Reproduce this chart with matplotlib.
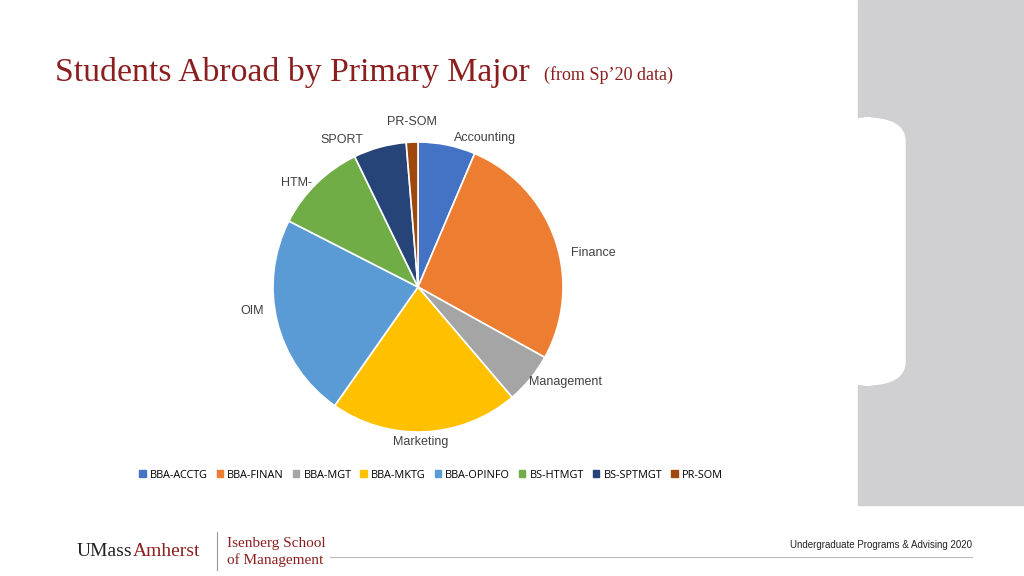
import matplotlib
matplotlib.use("Agg")
import matplotlib.pyplot as plt
from matplotlib.patches import Rectangle, FancyBboxPatch

labels = ["Accounting", "Finance", "Management", "Marketing", "OIM", "HTM-", "SPORT", "PR-SOM"]
legend_labels = ["BBA-ACCTG", "BBA-FINAN", "BBA-MGT", "BBA-MKTG", "BBA-OPINFO", "BS-HTMGT", "BS-SPTMGT", "PR-SOM"]
values = [6.4, 26.7, 5.7, 21.0, 22.8, 10.3, 5.9, 1.3]
colors = ["#4472C4", "#ED7D31", "#A5A5A5", "#FFC000", "#5B9BD5", "#70AD47", "#264478", "#9E480E"]

fig = plt.figure(figsize=(10.24, 5.76), dpi=100)
W, H = 1024, 576
def fx(x): return x / W
def fy(y): return 1 - y / H

fig.patches.append(Rectangle((fx(858), fy(505)), fx(1024) - fx(858), fy(0) - fy(505),
                             transform=fig.transFigure, color="#D0CFD2", zorder=0))
fig.patches.append(FancyBboxPatch((fx(830), fy(385)), fx(905) - fx(830), fy(118) - fy(385),
                                  boxstyle="round,pad=0,rounding_size=0.04", transform=fig.transFigure,
                                  color="white", zorder=1))

fig.text(fx(55), fy(72), "Students Abroad by Primary Major", fontsize=24.3, color="#8B1E1E",
         family="Liberation Serif", va="center")
fig.text(fx(544), fy(75), "(from Sp\u201920 data)", fontsize=13, color="#8B1E1E",
         family="Liberation Serif", va="center")

ax = fig.add_axes([fx(418 - 145), fy(287 + 145), 290 / W, 290 / H])
wedges, _ = ax.pie(values, colors=colors, startangle=90, counterclock=False,
                   wedgeprops=dict(edgecolor="white", linewidth=1.2))
ax.set_xlim(-1, 1)
ax.set_ylim(-1, 1)
ax.set_aspect("equal")

lab_pos = [(485, 138), (593, 253), (566, 382), (421, 442), (252, 311), (296, 183), (342, 140), (412, 122)]
for t, (x, y) in zip(labels, lab_pos):
    fig.text(fx(x), fy(y), t, fontsize=9, color="#404040", ha="center", va="center", family="Liberation Sans")

handles = [Rectangle((0, 0), 1, 1, color=c) for c in colors]
fig.legend(handles, legend_labels, loc="center", bbox_to_anchor=(fx(431), fy(475)), ncol=8,
           frameon=False, handlelength=0.6, handleheight=0.6, handletextpad=0.4,
           columnspacing=0.8, prop={"family": "Open Sans", "size": 7.8})

fig.text(fx(77), fy(551), "UMass", fontsize=14, family="Liberation Serif", color="#222", va="center")
fig.text(fx(133), fy(551), "Amherst", fontsize=14, family="Liberation Serif", color="#8B1E1E", va="center")
fig.lines.append(plt.Line2D([fx(217), fx(217)], [fy(532), fy(570)], transform=fig.transFigure, color="#999", lw=0.8))
fig.text(fx(227), fy(543), "Isenberg School", fontsize=11, family="Liberation Serif", color="#8B1E1E", va="center")
fig.text(fx(227), fy(560), "of Management", fontsize=11, family="Liberation Serif", color="#8B1E1E", va="center")
fig.lines.append(plt.Line2D([fx(330), fx(972)], [fy(557), fy(557)], transform=fig.transFigure, color="#BBB", lw=0.8))
fig.text(fx(972), fy(545), "Undergraduate Programs & Advising 2020", fontsize=7, ha="right",
         family="Liberation Sans", color="#222", va="center")

fig.savefig("out.png", dpi=100)
